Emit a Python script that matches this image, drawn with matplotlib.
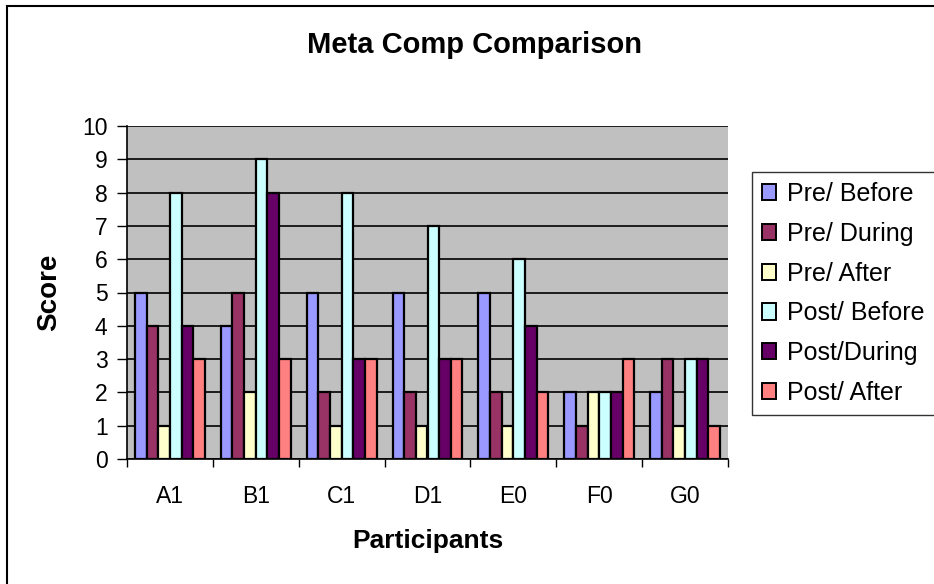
import numpy as np
import matplotlib.pyplot as plt
from matplotlib.patches import Rectangle

plt.rcParams['font.family'] = ['Liberation Sans', 'DejaVu Sans']

participants = ["A1", "B1", "C1", "D1", "E0", "F0", "G0"]
series_names = ["Pre/ Before", "Pre/ During", "Pre/ After",
                "Post/ Before", "Post/During", "Post/ After"]
pre_before = [5, 4, 5, 5, 5, 2, 2]
pre_during = [4, 5, 2, 2, 2, 1, 3]
pre_after = [1, 2, 1, 1, 1, 2, 1]
post_before = [8, 9, 8, 7, 6, 2, 3]
post_during = [4, 8, 3, 3, 4, 2, 3]
post_after = [3, 3, 3, 3, 2, 3, 1]
series = [pre_before, pre_during, pre_after, post_before, post_during, post_after]
colors = ["#9999FF", "#993366", "#FFFFCC", "#CCFFFF", "#660066", "#FF8080"]

W, H = 934, 584
fig = plt.figure(figsize=(W / 100, H / 100), dpi=100)
fig.patch.set_facecolor("white")

# plot area in pixel coordinates
left, top, right, bottom = 127, 126, 728, 459
ax = fig.add_axes([left / W, 1 - bottom / H, (right - left) / W, (bottom - top) / H])
ax.set_facecolor("#C0C0C0")

x = np.arange(len(participants))
group = 0.815
bw = group / len(series)
for i, (vals, col, name) in enumerate(zip(series, colors, series_names)):
    offs = -group / 2 + bw * (i + 0.5)
    ax.bar(x + offs, vals, width=bw, color=col, edgecolor="black",
           linewidth=1.6, label=name, zorder=3)

ax.set_xlim(-0.5, len(participants) - 0.5)
ax.set_ylim(0, 10)
ax.set_yticks(range(0, 11))
ax.yaxis.grid(True, color="black", linewidth=1.2, zorder=1)
ax.set_axisbelow(True)

# category labels centred, tick marks on the boundaries
ax.set_xticks(x)
ax.set_xticklabels(participants, fontsize=16.5)
ax.set_xticks(np.arange(-0.5, len(participants)), minor=True)
ax.tick_params(axis="x", which="major", length=0, pad=19)
ax.tick_params(axis="x", which="minor", length=6, width=1, direction="out")
ax.tick_params(axis="y", labelsize=16.5, length=7, width=1, direction="out", pad=7)

for s in ["top", "right"]:
    ax.spines[s].set_visible(False)
for s in ["left", "bottom"]:
    ax.spines[s].set_color("black")
    ax.spines[s].set_linewidth(1.2)

ax.set_xlabel("Participants", fontsize=19, fontweight="bold", labelpad=15)
ax.set_ylabel("Score", fontsize=20, fontweight="bold", labelpad=14)

fig.text(475 / W, 1 - 45 / H, "Meta Comp Comparison", ha="center", va="center",
         fontsize=21, fontweight="bold")

leg = fig.legend(loc="upper left", bbox_to_anchor=(752 / W, 1 - 172 / H),
                 fontsize=18, frameon=True, fancybox=False, edgecolor="black",
                 handlelength=0.56, handleheight=0.62, handletextpad=0.45,
                 labelspacing=0.63, borderpad=0.4, borderaxespad=0)
leg.get_frame().set_linewidth(1.0)
for h in leg.legend_handles:
    h.set_linewidth(1.4)

# outer chart frame
fig.add_artist(Rectangle((7 / W, -0.5), 2, 1 - 6 / H + 0.5, transform=fig.transFigure,
                         fill=False, edgecolor="black", linewidth=1.5, clip_on=False))

fig.savefig("out.png", dpi=100)
